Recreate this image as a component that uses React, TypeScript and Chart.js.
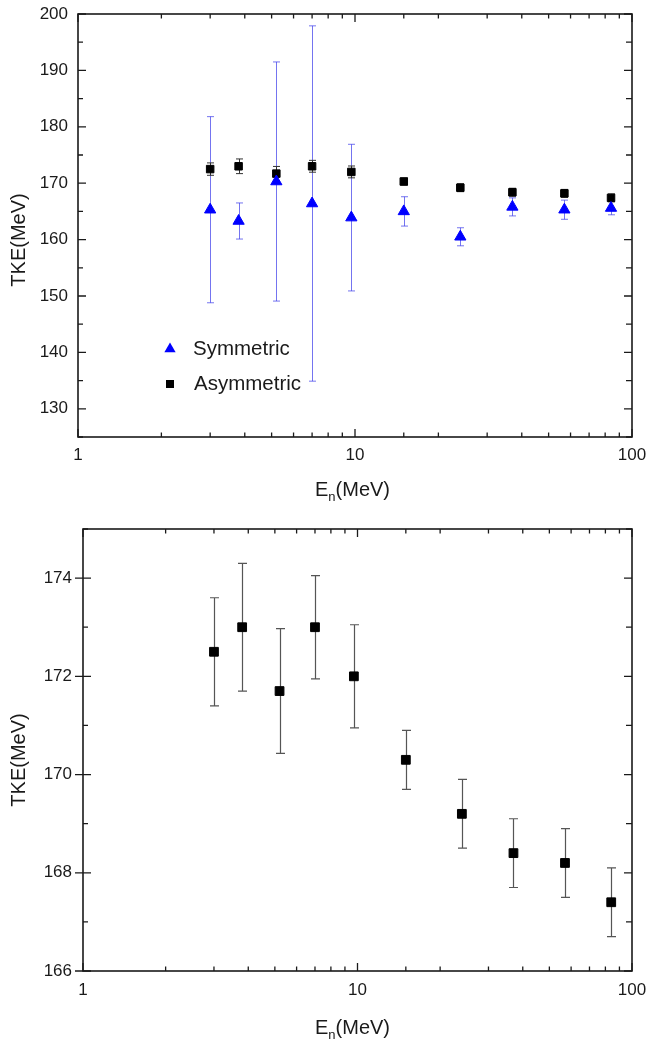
import React, { useEffect, useRef } from "react";
import { Chart, registerables } from "chart.js";

Chart.register(...registerables);

// ---------- data ----------
const energies = [3.0, 3.8, 5.2, 7.0, 9.7, 15, 24, 37, 57, 84];
const symmetricTKE = [165.3, 163.3, 170.3, 166.4, 163.9, 165.0, 160.5, 165.8, 165.3, 165.6];
const symmetricErr = [16.5, 3.2, 21.2, 31.5, 13.0, 2.6, 1.6, 1.6, 1.7, 1.2];
const asymmetricTKE = [172.5, 173.0, 171.7, 173.0, 172.0, 170.3, 169.2, 168.4, 168.2, 167.4];
const asymmetricErr = [1.1, 1.3, 1.27, 1.05, 1.05, 0.6, 0.7, 0.7, 0.7, 0.7];

const xTickLabels = [1, 10, 100];
const topYTickLabels = [130, 140, 150, 160, 170, 180, 190, 200];
const bottomYTickLabels = [166, 168, 170, 172, 174];
const legendLabels = ["Symmetric", "Asymmetric"];
const yTitle = "TKE(MeV)";
const xTitleMain = "E";
const xTitleSub = "n";
const xTitleUnit = "(MeV)";

const FONT = "'Liberation Sans', Arial, Helvetica, sans-serif";

type PanelCfg = {
  width: number;
  height: number;
  area: { left: number; top: number; right: number; bottom: number };
  yMin: number;
  yMax: number;
  yStep: number;
  yLabels: number[];
  yLabelPad: number;
  xLabelPad: number;
  yTitlePos: [number, number];
  xTitlePos: [number, number];
  leftMajorOut: number;
  showLegend: boolean;
  showSymmetric: boolean;
  squareRadius: number;
  asymErrColor: string;
  asymErrWidth: number;
  capHalf: number;
};

function makePlugin(cfg: PanelCfg, errs: (number[] | null)[], errColors: string[], errWidths: number[]) {
  return {
    id: "panelDecor",
    beforeDatasetsDraw(chart: any) {
      const { ctx } = chart;
      const xs = chart.scales.x;
      const ys = chart.scales.y;
      chart.data.datasets.forEach((ds: any, i: number) => {
        const e = errs[i];
        if (!e) return;
        ctx.save();
        ctx.strokeStyle = errColors[i];
        ctx.lineWidth = errWidths[i];
        ds.data.forEach((p: any, j: number) => {
          const px = Math.round(xs.getPixelForValue(p.x)) + 0.5;
          const top = ys.getPixelForValue(p.y + e[j]);
          const bot = ys.getPixelForValue(p.y - e[j]);
          const c = cfg.capHalf;
          ctx.beginPath();
          ctx.moveTo(px, top);
          ctx.lineTo(px, bot);
          ctx.moveTo(px - c, top);
          ctx.lineTo(px + c, top);
          ctx.moveTo(px - c, bot);
          ctx.lineTo(px + c, bot);
          ctx.stroke();
        });
        ctx.restore();
      });
    },
    afterDraw(chart: any) {
      const { ctx, chartArea } = chart;
      const xs = chart.scales.x;
      const ys = chart.scales.y;
      const { left, top, right, bottom } = chartArea;
      ctx.save();
      ctx.strokeStyle = "#1a1a1a";
      ctx.lineWidth = 1.6;
      ctx.strokeRect(left, top, right - left, bottom - top);

      ctx.lineWidth = 1.3;
      ctx.beginPath();
      // x ticks (bottom & top)
      xs.ticks.forEach((t: any) => {
        const v = t.value;
        if (v < 1 || v > 100) return;
        const major = Math.abs(Math.log10(v) - Math.round(Math.log10(v))) < 1e-9;
        const px = xs.getPixelForValue(v);
        const len = major ? 8 : 4.5;
        ctx.moveTo(px, bottom);
        ctx.lineTo(px, bottom - len);
        ctx.moveTo(px, top);
        ctx.lineTo(px, top + len);
      });
      // y ticks (left & right)
      ys.ticks.forEach((t: any) => {
        const v = t.value;
        const major = cfg.yLabels.includes(v);
        const py = ys.getPixelForValue(v);
        const len = major ? 8 : 5;
        ctx.moveTo(left - (major ? cfg.leftMajorOut : 0), py);
        ctx.lineTo(left + len, py);
        ctx.moveTo(right, py);
        ctx.lineTo(right - (major ? 8 : 6), py);
      });
      ctx.stroke();

      // y title
      ctx.fillStyle = "#1a1a1a";
      ctx.save();
      ctx.translate(cfg.yTitlePos[0], cfg.yTitlePos[1]);
      ctx.rotate(-Math.PI / 2);
      ctx.font = `20px ${FONT}`;
      ctx.textAlign = "center";
      ctx.textBaseline = "middle";
      ctx.fillText(yTitle, 0, 0);
      ctx.restore();

      // x title with subscript
      ctx.textAlign = "left";
      ctx.textBaseline = "alphabetic";
      let tx = cfg.xTitlePos[0];
      const ty = cfg.xTitlePos[1];
      ctx.font = `20px ${FONT}`;
      ctx.fillText(xTitleMain, tx, ty);
      tx += ctx.measureText(xTitleMain).width;
      ctx.font = `13px ${FONT}`;
      ctx.fillText(xTitleSub, tx, ty + 5);
      tx += ctx.measureText(xTitleSub).width;
      ctx.font = `20px ${FONT}`;
      ctx.fillText(xTitleUnit, tx, ty);

      // legend
      if (cfg.showLegend) {
        const mx = 170;
        const y1 = 349;
        const y2 = 384;
        const r = 6.5;
        ctx.fillStyle = "#0000ff";
        ctx.beginPath();
        ctx.moveTo(mx, y1 - r);
        ctx.lineTo(mx + r * Math.sin((2 * Math.PI) / 3), y1 - r * Math.cos((2 * Math.PI) / 3));
        ctx.lineTo(mx + r * Math.sin((4 * Math.PI) / 3), y1 - r * Math.cos((4 * Math.PI) / 3));
        ctx.closePath();
        ctx.fill();
        ctx.fillStyle = "#000";
        ctx.fillRect(mx - 4, y2 - 4, 8, 8);
        ctx.fillStyle = "#1a1a1a";
        ctx.font = `20.5px ${FONT}`;
        ctx.textBaseline = "middle";
        ctx.fillText(legendLabels[0], 193, y1);
        ctx.fillText(legendLabels[1], 194, y2);
      }
      ctx.restore();
    },
  };
}

function Panel({ cfg }: { cfg: PanelCfg }) {
  const ref = useRef<HTMLCanvasElement | null>(null);
  useEffect(() => {
    if (!ref.current) return;
    const datasets: any[] = [];
    const errs: (number[] | null)[] = [];
    const errColors: string[] = [];
    const errWidths: number[] = [];
    if (cfg.showSymmetric) {
      datasets.push({
        label: legendLabels[0],
        data: energies.map((x, i) => ({ x, y: symmetricTKE[i] })),
        pointStyle: "triangle",
        pointRadius: 6.5,
        backgroundColor: "#0000ff",
        borderColor: "#0000ff",
        borderWidth: 1,
        showLine: false,
      });
      errs.push(symmetricErr);
      errColors.push("rgba(70,70,235,0.75)");
      errWidths.push(1);
    }
    datasets.push({
      label: legendLabels[1],
      data: energies.map((x, i) => ({ x, y: asymmetricTKE[i] })),
      pointStyle: "rect",
      pointRadius: cfg.squareRadius,
      backgroundColor: "#000",
      borderColor: "#000",
      borderWidth: 1,
      showLine: false,
    });
    errs.push(asymmetricErr);
    errColors.push(cfg.asymErrColor);
    errWidths.push(cfg.asymErrWidth);

    const a = cfg.area;
    const chart = new Chart(ref.current, {
      type: "scatter",
      data: { datasets },
      options: {
        responsive: false,
        animation: false,
        devicePixelRatio: 1,
        layout: { padding: { left: 0, top: a.top, right: cfg.width - a.right, bottom: 0 } },
        plugins: { legend: { display: false }, tooltip: { enabled: false } },
        scales: {
          x: {
            type: "logarithmic",
            min: 1,
            max: 100,
            grid: { display: false, drawTicks: false },
            border: { display: false },
            afterFit: (s: any) => {
              s.height = cfg.height - a.bottom;
              s.paddingLeft = 0;
              s.paddingRight = 0;
            },
            ticks: {
              padding: cfg.xLabelPad,
              maxRotation: 0,
              autoSkip: false,
              color: "#1a1a1a",
              font: { size: 17, family: FONT, lineHeight: 1.2 },
              callback: (v: any) => (xTickLabels.includes(Number(v)) ? String(v) : ""),
            },
          },
          y: {
            type: "linear",
            min: cfg.yMin,
            max: cfg.yMax,
            grid: { display: false, drawTicks: false },
            border: { display: false },
            afterFit: (s: any) => {
              s.width = a.left;
              s.paddingTop = 0;
              s.paddingBottom = 0;
            },
            ticks: {
              stepSize: cfg.yStep,
              padding: cfg.yLabelPad,
              autoSkip: false,
              color: "#1a1a1a",
              font: { size: 17, family: FONT, lineHeight: 1.2 },
              callback: (v: any) => (cfg.yLabels.includes(Number(v)) ? String(v) : ""),
            },
          },
        },
      } as any,
      plugins: [makePlugin(cfg, errs, errColors, errWidths)],
    });
    return () => chart.destroy();
  }, [cfg]);
  return <canvas ref={ref} width={cfg.width} height={cfg.height} style={{ display: "block" }} />;
}

const topCfg: PanelCfg = {
  width: 646,
  height: 505,
  area: { left: 78, top: 14, right: 632, bottom: 437 },
  yMin: 125,
  yMax: 200,
  yStep: 5,
  yLabels: topYTickLabels,
  yLabelPad: 10,
  xLabelPad: 8,
  yTitlePos: [19, 240],
  xTitlePos: [315, 496],
  leftMajorOut: 0,
  showLegend: true,
  showSymmetric: true,
  squareRadius: 5.3,
  asymErrColor: "#333",
  asymErrWidth: 1,
  capHalf: 3.5,
};

const bottomCfg: PanelCfg = {
  width: 646,
  height: 536,
  area: { left: 83, top: 24, right: 632, bottom: 466 },
  yMin: 166,
  yMax: 175,
  yStep: 1,
  yLabels: bottomYTickLabels,
  yLabelPad: 11,
  xLabelPad: 9,
  yTitlePos: [19, 255],
  xTitlePos: [315, 529],
  leftMajorOut: 8,
  showLegend: false,
  showSymmetric: false,
  squareRadius: 6.2,
  asymErrColor: "#555",
  asymErrWidth: 1.2,
  capHalf: 4.5,
};

export default function App() {
  return (
    <div style={{ position: "absolute", left: 0, top: 0, width: 646, height: 1041, background: "#fff" }}>
      <Panel cfg={topCfg} />
      <Panel cfg={bottomCfg} />
    </div>
  );
}
